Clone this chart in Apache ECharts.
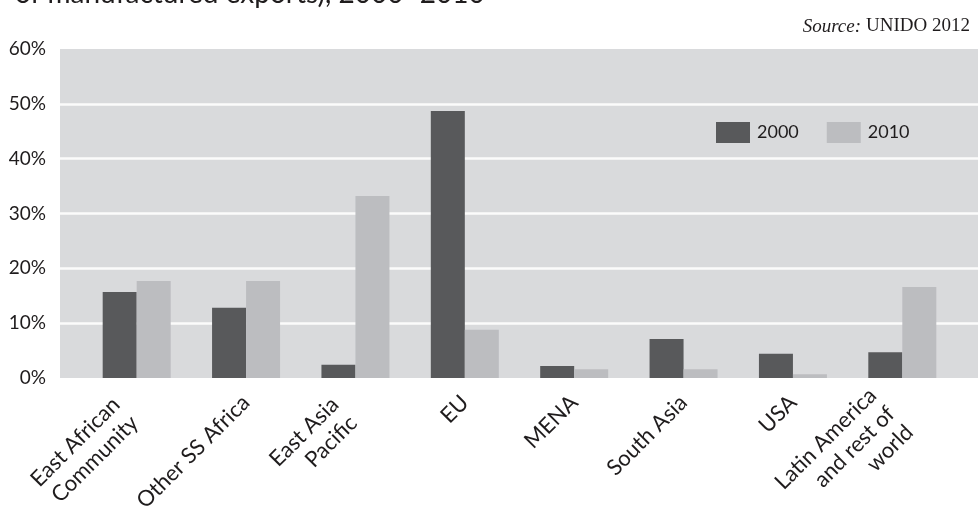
<!DOCTYPE html>
<html>
<head>
<meta charset="utf-8">
<script src="https://cdn.jsdelivr.net/npm/echarts@6/dist/echarts.min.js"></script>
<style>
html,body{margin:0;padding:0;background:#fff;}
#c{width:979px;height:516px;}
</style>
</head>
<body>
<div id="c"></div>
<script>
var categories = ['East African\nCommunity', 'Other SS Africa', 'East Asia\nPacific', 'EU', 'MENA', 'South Asia', 'USA', 'Latin America\nand rest of\nworld'];
var values2000 = [15.7, 12.8, 2.4, 48.7, 2.2, 7.1, 4.4, 4.7];
var values2010 = [17.7, 17.7, 33.2, 8.8, 1.6, 1.6, 0.7, 16.6];
var yTicks = [0, 10, 20, 30, 40, 50, 60];

var chart = echarts.init(document.getElementById('c'), null, {renderer: 'canvas'});
var font = 'Lato, "Open Sans", sans-serif';
var txt = '#1f1c1d';
var LH = 26;
var catData = categories.map(function (c) {
  var n = c.split('\n').length;
  if (n === 1) return c;
  return {value: c, textStyle: {padding: [(n - 1) * LH + 12, 16, 0, 0]}};
});
chart.setOption({
  animation: false,
  backgroundColor: '#ffffff',
  title: [
    {text: 'of manufactured exports), 2000\u20132010', left: 10, top: -25,
     textStyle: {fontFamily: font, fontSize: 28, fontWeight: 'normal', color: txt}},
    {text: '{i|Source:} {n|UNIDO 2012}', right: 4, top: 12,
     textStyle: {fontWeight: 'normal', rich: {
       i: {fontFamily: '"Liberation Serif", serif', fontStyle: 'italic', fontWeight: 'normal', fontSize: 19, color: txt},
       n: {fontFamily: '"Liberation Serif", serif', fontWeight: 'normal', fontSize: 19, color: txt}
     }}}
  ],
  legend: {
    left: 711, top: 117, itemWidth: 34, itemHeight: 21, itemGap: 28,
    icon: 'rect',
    textStyle: {fontFamily: font, fontSize: 18, color: txt, padding: [0, 0, 0, 2]},
    data: ['2000', '2010']
  },
  grid: [
    {left: 60, right: 1, top: 49, bottom: 138, show: true, backgroundColor: '#d9dadc', borderWidth: 0,
     containLabel: false, outerBoundsMode: 'none'},
    {left: 82, right: 22, top: 49, bottom: 138, containLabel: false, outerBoundsMode: 'none'}
  ],
  xAxis: [
    {gridIndex: 0, type: 'value', show: false},
    {gridIndex: 1, type: 'category', data: catData,
     axisLine: {show: false}, axisTick: {show: false},
     axisLabel: {rotate: 45, margin: 21, interval: 0, fontFamily: font, fontSize: 22, color: txt, lineHeight: LH}}
  ],
  yAxis: [
    {gridIndex: 0, type: 'value', min: yTicks[0], max: yTicks[yTicks.length - 1], interval: 10,
     axisLine: {show: false}, axisTick: {show: false},
     axisLabel: {formatter: '{value}%', margin: 14, fontFamily: font, fontSize: 19, color: txt},
     splitLine: {show: true, showMinLine: false, showMaxLine: false, lineStyle: {color: '#fbfbfb', width: 2.5}}},
    {gridIndex: 1, type: 'value', min: yTicks[0], max: yTicks[yTicks.length - 1], interval: 10, show: false,
     splitLine: {show: false}}
  ],
  series: [
    {name: '2000', type: 'bar', xAxisIndex: 1, yAxisIndex: 1, data: values2000,
     barWidth: 34, barGap: '0%', itemStyle: {color: '#58595b'}},
    {name: '2010', type: 'bar', xAxisIndex: 1, yAxisIndex: 1, data: values2010,
     barWidth: 34, barGap: '0%', itemStyle: {color: '#bcbdc0'}}
  ]
});
</script>
</body>
</html>
